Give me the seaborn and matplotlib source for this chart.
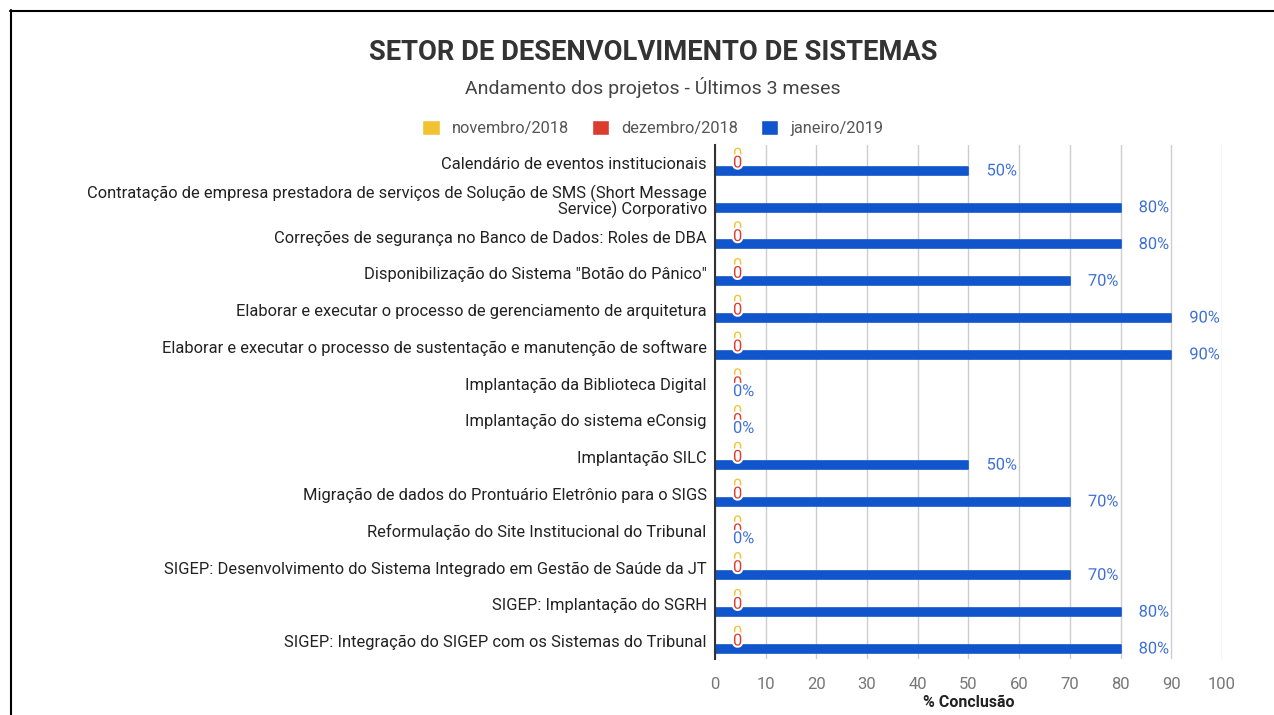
import numpy as np
import pandas as pd
import seaborn as sns
import matplotlib.pyplot as plt
import matplotlib.patheffects as pe
from matplotlib.lines import Line2D

projetos = [
    "Calendário de eventos institucionais",
    "Contratação de empresa prestadora de serviços de Solução de SMS (Short Message\nService) Corporativo",
    "Correções de segurança no Banco de Dados: Roles de DBA",
    "Disponibilização do Sistema \"Botão do Pânico\"",
    "Elaborar e executar o processo de gerenciamento de arquitetura",
    "Elaborar e executar o processo de sustentação e manutenção de software",
    "Implantação da Biblioteca Digital",
    "Implantação do sistema eConsig",
    "Implantação SILC",
    "Migração de dados do Prontuário Eletrônio para o SIGS",
    "Reformulação do Site Institucional do Tribunal",
    "SIGEP: Desenvolvimento do Sistema Integrado em Gestão de Saúde da JT",
    "SIGEP: Implantação do SGRH",
    "SIGEP: Integração do SIGEP com os Sistemas do Tribunal",
]
nov_2018 = [0, np.nan, 0, 0, 0, 0, 0, 0, 0, 0, 0, 0, 0, 0]
dez_2018 = [0, np.nan, 0, 0, 0, 0, 0, 0, 0, 0, 0, 0, 0, 0]
jan_2019 = [50, 80, 80, 70, 90, 90, 0, 0, 50, 70, 0, 70, 80, 80]

meses = ["novembro/2018", "dezembro/2018", "janeiro/2019"]
cores = ["#f1c232", "#dc3b2f", "#1155cc"]
cores_rotulo = ["#f1c232", "#dc3b2f", "#3d6fd6"]

df = pd.DataFrame({
    "projeto": projetos * 3,
    "mes": np.repeat(meses, len(projetos)),
    "valor": nov_2018 + dez_2018 + jan_2019,
})
df["plot"] = df["valor"].fillna(0)

sns.set_style("white")
plt.rcParams["font.family"] = ["Roboto", "DejaVu Sans"]

fig = plt.figure(figsize=(12.74, 7.15), dpi=100)
ax = fig.add_axes([0.5612, 0.0778, 0.3980, 0.72])

sns.barplot(data=df, y="projeto", x="plot", hue="mes", hue_order=meses,
            palette=cores, saturation=1, orient="h", width=0.65, dodge=True,
            errorbar=None, ax=ax, legend=True)

for cont, mes, cor, fc in zip(ax.containers, meses, cores_rotulo, cores):
    for p in cont.patches:
        p.set_edgecolor(fc)
        p.set_linewidth(1.2)
        p.set_joinstyle("round")
    vals = df.loc[df["mes"] == mes, "valor"].tolist()
    if mes == "janeiro/2019":
        labels = ["%d%%" % v for v in vals]
    else:
        labels = ["" if np.isnan(v) else "%d" % v for v in vals]
    txts = ax.bar_label(cont, labels=labels, padding=13, color=cor, fontsize=11.8)
    for t in txts:
        t.set_path_effects([pe.withStroke(linewidth=3, foreground="white")])
        t.set_va("center")

ax.set_xlim(0, 100)
ax.set_xticks(range(0, 101, 10))
ax.grid(axis="x", color="#cccccc", linewidth=1)
ax.set_axisbelow(True)
for s in ["top", "right", "bottom"]:
    ax.spines[s].set_visible(False)
ax.spines["left"].set_color("#333333")
ax.spines["left"].set_linewidth(1.5)
ax.tick_params(axis="x", length=0, labelsize=12, labelcolor="#777777", pad=13)
ax.tick_params(axis="y", length=0, labelsize=11.9, labelcolor="#222222", pad=6)
ax.set_ylabel("")
ax.set_xlabel("% Conclusão", fontsize=11.5, fontweight="bold", color="#222222", labelpad=2)
for lbl in ax.get_yticklabels():
    lbl.set_linespacing(0.9)

ax.legend(loc="center", bbox_to_anchor=(0.5126, 1 - 128 / 715),
          bbox_transform=fig.transFigure, ncol=3, frameon=False,
          fontsize=11.8, labelcolor="#555555", handlelength=1.05, handleheight=1.05,
          handletextpad=0.75, columnspacing=1.4)

fig.text(0.5126, 1 - 53 / 715, "SETOR DE DESENVOLVIMENTO DE SISTEMAS", ha="center", va="center",
         fontsize=19.7, fontweight="bold", color="#333333")
fig.text(0.5126, 1 - 88 / 715, "Andamento dos projetos - Últimos 3 meses", ha="center", va="center",
         fontsize=14, color="#444444")

fig.add_artist(Line2D([10 / 1274, 1], [1 - 10.5 / 715] * 2, color="black", linewidth=1.5,
                      transform=fig.transFigure))
fig.add_artist(Line2D([10.5 / 1274] * 2, [0, 1 - 10 / 715], color="black", linewidth=1.5,
                      transform=fig.transFigure))

fig.savefig("out.png", dpi=100)
